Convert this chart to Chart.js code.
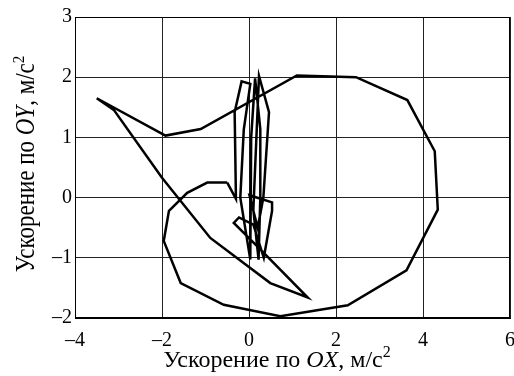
<!DOCTYPE html>
<html>
<head>
<meta charset="utf-8">
<script src="https://cdn.jsdelivr.net/npm/chart.js@4/dist/chart.umd.min.js"></script>
<style>
  html, body { margin: 0; padding: 0; background: #fff; }
  #wrap { width: 514px; height: 376px; }
</style>
</head>
<body>
<div id="wrap"><canvas id="c" width="514" height="376"></canvas></div>
<script>
// Trajectory of acceleration (OX, OY), m/s^2
const accX = [
  -0.5, -0.3, -0.33, -0.17, 0.03, -0.12, -0.2, 0.03, 0.05, 0.14, 0.26, 0.26, 0.22, 0.1,
  0.23, 0.46, 0.33, 0.2, 0.01, 0.53, 0.53, 0.34, 0.1, -0.23, -0.35, 0.3, 1.35,
  0.49, -0.89, -2.0, -3.1, -3.5, -1.92, -1.11, 1.1, 2.46, 3.64, 4.27, 4.34, 3.62, 2.27,
  0.72, -0.58, -1.57, -1.96, -1.84, -1.42, -0.96, -0.5
];
const accY = [
  0.25, -0.02, 1.42, 1.93, 1.89, 1.13, 0.0, -1.03, 1.0, 1.98, 1.14, 0.0, -1.03, -0.2,
  2.02, 1.42, 0.0, -0.5, 0.04, -0.08, -0.22, -1.0, -0.45, -0.33, -0.42, -0.89, -1.66,
  -1.42, -0.67, 0.33, 1.45, 1.65, 1.03, 1.14, 2.03, 2.0, 1.62, 0.77, -0.2, -1.21, -1.79,
  -1.97, -1.78, -1.42, -0.72, -0.22, 0.08, 0.25, 0.25
];
const xTicks = [-4, -2, 0, 2, 4, 6];
const yTicks = [-2, -1, 0, 1, 2, 3];
const xTitle = ["Ускорение по ", "OX", ", м/с", "2"];
const yTitle = ["Ускорение по ", "OY", ", м/с", "2"];

const points = accX.map((x, i) => ({ x: x, y: accY[i] }));
const FONT = "'Liberation Serif', 'DejaVu Serif', serif";
const fmt = v => (v < 0 ? "\u2013" + Math.abs(v) : String(v));

function drawMixed(ctx, parts, size) {
  const normal = size + "px " + FONT, ital = "italic " + size + "px " + FONT,
        sup = Math.round(size * 0.65) + "px " + FONT;
  const styles = [normal, ital, normal, sup];
  const widths = parts.map((p, i) => { ctx.font = styles[i]; return ctx.measureText(p).width; });
  const total = widths.reduce((a, b) => a + b, 0);
  let x = -total / 2;
  parts.forEach((p, i) => {
    ctx.font = styles[i];
    ctx.fillText(p, x, i === 3 ? -Math.round(size * 0.4) : 0);
    x += widths[i];
  });
}

const titlePlugin = {
  id: 'mixedTitles',
  afterDraw(chart) {
    const ctx = chart.ctx;
    ctx.save();
    ctx.fillStyle = '#000';
    ctx.textBaseline = 'alphabetic';
    ctx.textAlign = 'left';
    ctx.save();
    ctx.translate(277, 367);
    drawMixed(ctx, xTitle, 24);
    ctx.restore();
    ctx.save();
    ctx.translate(34, 164);
    ctx.rotate(-Math.PI / 2);
    ctx.scale(1, 1.15);
    drawMixed(ctx, yTitle, 23);
    ctx.restore();
    ctx.restore();
  }
};

new Chart(document.getElementById('c'), {
  type: 'scatter',
  data: {
    datasets: [{
      data: points,
      showLine: true,
      borderColor: '#000',
      borderWidth: 2.5,
      pointRadius: 0,
      tension: 0,
      fill: false
    }]
  },
  options: {
    responsive: false,
    animation: false,
    devicePixelRatio: 1,
    layout: { padding: { top: 17, right: 4, left: 0, bottom: 0 } },
    plugins: { legend: { display: false }, tooltip: { enabled: false } },
    scales: {
      x: {
        type: 'linear', min: -4, max: 6,
        afterBuildTicks: s => { s.ticks = xTicks.map(v => ({ value: v })); },
        afterFit: s => { s.height = 58; s.paddingRight = 0; s.paddingLeft = 0; },
        grid: { color: '#222', lineWidth: 1, drawTicks: false },
        border: { color: '#000', width: 1 },
        ticks: { color: '#000', font: { family: FONT, size: 20 }, padding: 11, callback: fmt, maxRotation: 0 }
      },
      y: {
        type: 'linear', min: -2, max: 3,
        afterBuildTicks: s => { s.ticks = yTicks.map(v => ({ value: v })); },
        afterFit: s => { s.width = 75; s.paddingTop = 0; s.paddingBottom = 0; },
        grid: { color: '#222', lineWidth: 1, drawTicks: false },
        border: { color: '#000', width: 1 },
        ticks: { color: '#000', font: { family: FONT, size: 20 }, padding: 3, callback: fmt }
      }
    }
  },
  plugins: [titlePlugin, {
    id: 'frame',
    afterDatasetsDraw(chart) {
      const a = chart.chartArea, ctx = chart.ctx;
      ctx.save();
      ctx.strokeStyle = '#000';
      ctx.lineWidth = 1;
      ctx.strokeRect(Math.round(a.left) + 0.5, Math.round(a.top) + 0.5, Math.round(a.right - a.left) - 1, Math.round(a.bottom - a.top) - 1);
      ctx.restore();
    }
  }]
});
</script>
</body>
</html>
